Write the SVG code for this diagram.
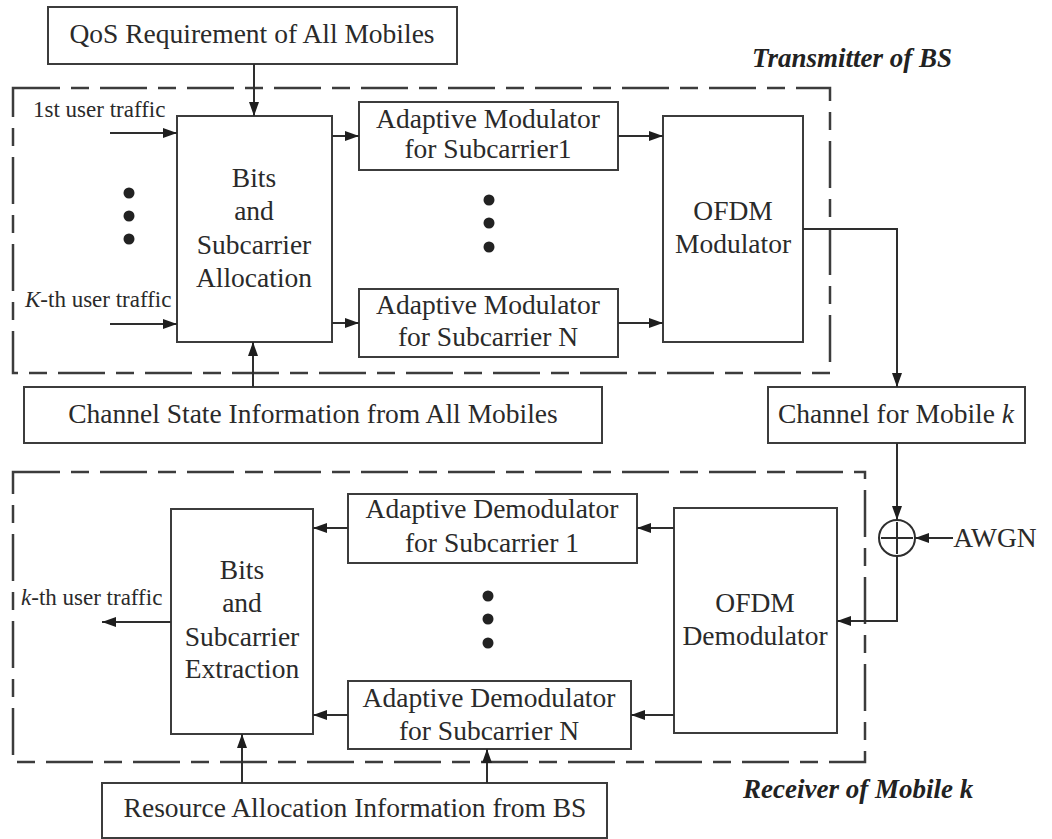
<svg xmlns="http://www.w3.org/2000/svg" width="1052" height="839" viewBox="0 0 1052 839">
<style>
.box{fill:none;stroke:#3c3c3c;stroke-width:2}
.dash{fill:none;stroke:#3c3c3c;stroke-width:2.5;stroke-dasharray:47 11 18 11}
.t{font-family:"Liberation Serif","Times New Roman",serif;font-size:27.5px;fill:#2a2a2a;text-anchor:middle}
.s{font-family:"Liberation Serif","Times New Roman",serif;font-size:23px;fill:#2a2a2a}
.h{font-family:"Liberation Serif","Times New Roman",serif;font-size:27px;font-weight:bold;font-style:italic;fill:#222}
.c{fill:none;stroke:#2e2e2e;stroke-width:2}
.dot{fill:#222}
</style>
<defs>
<marker id="ah" markerUnits="userSpaceOnUse" markerWidth="15" markerHeight="11" refX="14" refY="5" orient="auto">
<path d="M0,0 L14,5 L0,10 z" fill="#1e1e1e"/>
</marker>
</defs>
<rect width="1052" height="839" fill="#ffffff"/>

<g id="transmitter">
<rect class="dash" x="13" y="88" width="817" height="285"/>
<text class="h" x="752" y="67">Transmitter of BS</text>
</g>
<g id="receiver">
<rect class="dash" x="13" y="472" width="852" height="290"/>
<text class="h" x="743" y="798">Receiver of Mobile k</text>
</g>

<g id="qos">
<rect class="box" x="48" y="7" width="409" height="57"/>
<text class="t" x="252" y="43">QoS Requirement of All Mobiles</text>
</g>
<g id="bits-alloc">
<rect class="box" x="177" y="116" width="155" height="226"/>
<text class="t" x="254" y="187">Bits</text>
<text class="t" x="254" y="220">and</text>
<text class="t" x="254" y="254">Subcarrier</text>
<text class="t" x="254" y="287">Allocation</text>
</g>
<g id="am1">
<rect class="box" x="359" y="102" width="259" height="68"/>
<text class="t" x="488" y="128">Adaptive Modulator</text>
<text class="t" x="488" y="158">for Subcarrier1</text>
</g>
<g id="amn">
<rect class="box" x="359" y="289" width="259" height="68"/>
<text class="t" x="488" y="314">Adaptive Modulator</text>
<text class="t" x="488" y="346">for Subcarrier N</text>
</g>
<g id="ofdm-mod">
<rect class="box" x="663" y="116" width="140" height="226"/>
<text class="t" x="733" y="220">OFDM</text>
<text class="t" x="733" y="253">Modulator</text>
</g>
<g id="csi">
<rect class="box" x="24" y="387" width="578" height="56"/>
<text class="t" x="313" y="423">Channel State Information from All Mobiles</text>
</g>
<g id="channel">
<rect class="box" x="768" y="387" width="257" height="56"/>
<text class="t" x="896" y="423">Channel for Mobile <tspan font-style="italic">k</tspan></text>
</g>
<g id="adder">
<circle cx="897" cy="538" r="18" fill="none" stroke="#2e2e2e" stroke-width="2"/>
<path d="M881,538 H913 M897,522 V554" stroke="#2e2e2e" stroke-width="2" fill="none"/>
</g>
<g id="awgn">
<text class="t" x="995" y="547">AWGN</text>
</g>
<g id="ofdm-demod">
<rect class="box" x="674" y="508" width="163" height="225"/>
<text class="t" x="755" y="612">OFDM</text>
<text class="t" x="755" y="645">Demodulator</text>
</g>
<g id="ad1">
<rect class="box" x="348" y="494" width="289" height="69"/>
<text class="t" x="492" y="518">Adaptive Demodulator</text>
<text class="t" x="492" y="552">for Subcarrier 1</text>
</g>
<g id="adn">
<rect class="box" x="348" y="681" width="283" height="68"/>
<text class="t" x="489" y="707">Adaptive Demodulator</text>
<text class="t" x="489" y="740">for Subcarrier N</text>
</g>
<g id="bits-ext">
<rect class="box" x="171" y="509" width="142" height="225"/>
<text class="t" x="242" y="579">Bits</text>
<text class="t" x="242" y="612">and</text>
<text class="t" x="242" y="646">Subcarrier</text>
<text class="t" x="242" y="678">Extraction</text>
</g>
<g id="rai">
<rect class="box" x="102" y="783" width="505" height="55"/>
<text class="t" x="355" y="817">Resource Allocation Information from BS</text>
</g>
<g id="labels">
<text class="s" x="33" y="117">1st user traffic</text>
<text class="s" x="25" y="307"><tspan font-style="italic">K</tspan>-th user traffic</text>
<text class="s" x="21" y="605"><tspan font-style="italic">k</tspan>-th user traffic</text>
</g>
<g id="dots">
<circle class="dot" cx="129" cy="193" r="5.5"/>
<circle class="dot" cx="129" cy="216" r="5.5"/>
<circle class="dot" cx="129" cy="239" r="5.5"/>
<circle class="dot" cx="489" cy="200" r="5.5"/>
<circle class="dot" cx="489" cy="223" r="5.5"/>
<circle class="dot" cx="489" cy="247" r="5.5"/>
<circle class="dot" cx="488" cy="596" r="5.5"/>
<circle class="dot" cx="488" cy="619" r="5.5"/>
<circle class="dot" cx="488" cy="643" r="5.5"/>
</g>

<g id="connectors">
<path class="c" d="M254,64 V116" marker-end="url(#ah)"/>
<path class="c" d="M110,133 H177" marker-end="url(#ah)"/>
<path class="c" d="M110,324 H177" marker-end="url(#ah)"/>
<path class="c" d="M253,387 V342" marker-end="url(#ah)"/>
<path class="c" d="M332,136 H359" marker-end="url(#ah)"/>
<path class="c" d="M332,323 H359" marker-end="url(#ah)"/>
<path class="c" d="M618,136 H663" marker-end="url(#ah)"/>
<path class="c" d="M618,323 H663" marker-end="url(#ah)"/>
<path class="c" d="M803,229 H897 V387" marker-end="url(#ah)"/>
<path class="c" d="M897,443 V520" marker-end="url(#ah)"/>
<path class="c" d="M953,538 H915" marker-end="url(#ah)"/>
<path class="c" d="M897,556 V621 H837" marker-end="url(#ah)"/>
<path class="c" d="M674,528 H637" marker-end="url(#ah)"/>
<path class="c" d="M674,715 H631" marker-end="url(#ah)"/>
<path class="c" d="M348,528 H313" marker-end="url(#ah)"/>
<path class="c" d="M348,715 H313" marker-end="url(#ah)"/>
<path class="c" d="M171,622 H102" marker-end="url(#ah)"/>
<path class="c" d="M242,783 V734" marker-end="url(#ah)"/>
<path class="c" d="M487,783 V749" marker-end="url(#ah)"/>
</g>
</svg>
